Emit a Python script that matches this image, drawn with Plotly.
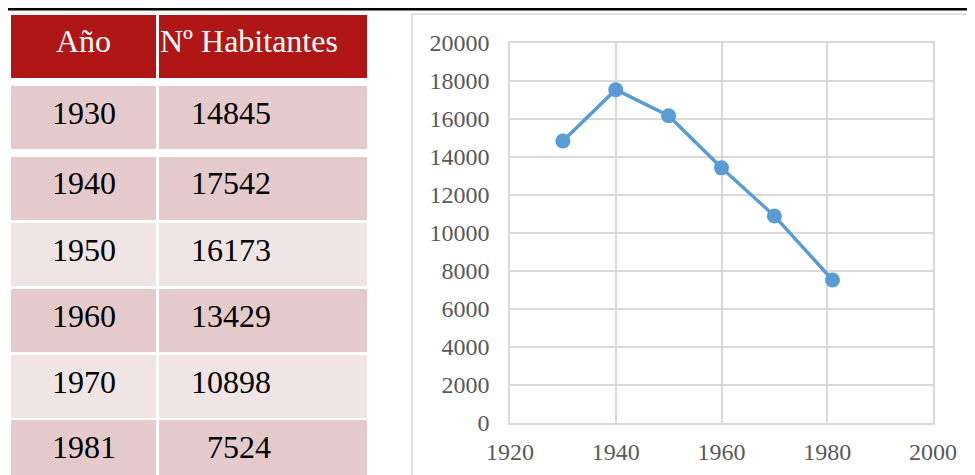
import plotly.graph_objects as go

# ---- data ----
years = [1930, 1940, 1950, 1960, 1970, 1981]
habitantes = [14845, 17542, 16173, 13429, 10898, 7524]
year_labels = ["1930", "1940", "1950", "1960", "1970", "1981"]
hab_labels = ["14845", "17542", "16173", "13429", "10898", "7524"]
header_labels = ["Año", "Nº Habitantes"]
x_ticks = [1920, 1940, 1960, 1980, 2000]
y_ticks = [0, 2000, 4000, 6000, 8000, 10000, 12000, 14000, 16000, 18000, 20000]

# ---- layout constants (pixels, in page coordinates) ----
PAGE_W, PAGE_H = 975, 475
OFF = 8  # default page body margin
W, H = PAGE_W - OFF, PAGE_H - OFF
def px(x):
    return (x - OFF) / W
def py(y):
    return 1 - (y - OFF) / H

HEADER_RED = "#B11616"
DARK_ROW = "#E4CACA"
LIGHT_ROW = "#F0E4E4"
row_fills = [DARK_ROW, DARK_ROW, LIGHT_ROW, DARK_ROW, LIGHT_ROW, DARK_ROW]
col1 = (11, 156)
col2 = (159, 367)
header_box = (15, 78)
row_tops = [86, 157, 223, 289, 355, 420]
row_h = 63
TABLE_FONT = "Liberation Serif, Times New Roman, serif"

shapes = []
annotations = []

# top black rule
shapes.append(dict(type="line", xref="paper", yref="paper",
                   x0=px(5), x1=px(980), y0=py(9.2), y1=py(9.2),
                   line=dict(color="black", width=2.5)))
# chart border
shapes.append(dict(type="rect", xref="paper", yref="paper",
                   x0=px(412), x1=px(990), y0=py(14), y1=py(490),
                   line=dict(color="#D9D9D9", width=1.5), fillcolor="rgba(0,0,0,0)"))

# header cells
for (c0, c1) in (col1, col2):
    shapes.append(dict(type="rect", xref="paper", yref="paper",
                       x0=px(c0), x1=px(c1), y0=py(header_box[0]), y1=py(header_box[1]),
                       line=dict(width=0), fillcolor=HEADER_RED, layer="below"))
hy = (header_box[0] + header_box[1]) / 2 - 5
annotations.append(dict(x=px((col1[0] + col1[1]) / 2), y=py(hy),
                        xref="paper", yref="paper", text=header_labels[0], showarrow=False,
                        xanchor="center", yanchor="middle",
                        font=dict(family=TABLE_FONT, size=32, color="white")))
annotations.append(dict(x=px(col2[0] - 1), y=py(hy),
                        xref="paper", yref="paper", text=header_labels[1], showarrow=False,
                        xanchor="left", yanchor="middle",
                        font=dict(family=TABLE_FONT, size=32, color="white")))

# body cells
for i, top in enumerate(row_tops):
    for (c0, c1) in (col1, col2):
        shapes.append(dict(type="rect", xref="paper", yref="paper",
                           x0=px(c0), x1=px(c1), y0=py(top), y1=py(top + row_h),
                           line=dict(width=0), fillcolor=row_fills[i], layer="below"))
    cy = top + row_h / 2 - 5
    annotations.append(dict(x=px((col1[0] + col1[1]) / 2), y=py(cy), xref="paper", yref="paper",
                            text=year_labels[i], showarrow=False, xanchor="center", yanchor="middle",
                            font=dict(family=TABLE_FONT, size=32, color="black")))
    annotations.append(dict(x=px(273), y=py(cy), xref="paper", yref="paper",
                            text=hab_labels[i], showarrow=False, xanchor="right", yanchor="middle",
                            font=dict(family=TABLE_FONT, size=32, color="black")))

fig = go.Figure()
fig.add_trace(go.Scatter(
    x=years, y=habitantes, mode="lines+markers",
    line=dict(color="#5B9BD5", width=3.5),
    marker=dict(color="#5B9BD5", size=15),
    showlegend=False, cliponaxis=False,
))

GRID = "#D9D9D9"
TICK_FONT = dict(family="Liberation Serif, Times New Roman, serif", size=24, color="#595959")

fig.update_layout(
    width=W, height=H,
    margin=dict(l=0, r=0, t=0, b=0, pad=0),
    paper_bgcolor="white", plot_bgcolor="white",
    shapes=shapes, annotations=annotations,
    xaxis=dict(domain=[px(510), px(933)], range=[1920, 2000], tickvals=x_ticks,
               tickformat="d",
               showgrid=True, gridcolor=GRID, gridwidth=1.5,
               showline=True, linecolor=GRID, linewidth=1.5, mirror=True,
               zeroline=False, ticks="", tickfont=TICK_FONT, ticklabelstandoff=6,
               automargin=False, fixedrange=True),
    yaxis=dict(domain=[py(423), py(43)], range=[0, 20000], tickvals=y_ticks,
               tickformat="d",
               showgrid=True, gridcolor=GRID, gridwidth=1.5,
               showline=True, linecolor=GRID, linewidth=1.5, mirror=True,
               zeroline=False, ticks="", tickfont=TICK_FONT, ticklabelstandoff=14,
               automargin=False, fixedrange=True),
)

fig.write_html("out.html")
